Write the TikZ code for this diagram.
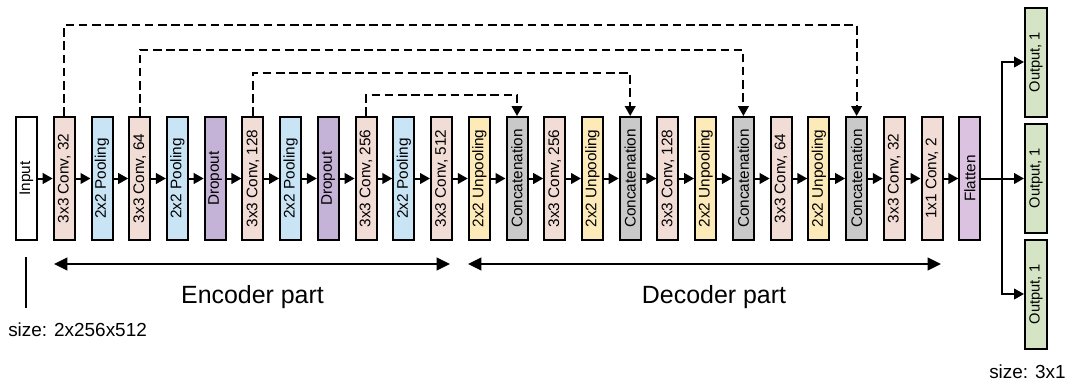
\documentclass[tikz,border=0pt]{standalone}
\usepackage{fontspec}
\setmainfont{Liberation Sans}
\usepackage{graphicx}
\usetikzlibrary{arrows.meta,calc}
\definecolor{convc}{HTML}{F2DCD6}
\definecolor{poolc}{HTML}{C8E4F5}
\definecolor{dropc}{HTML}{C4B2D7}
\definecolor{unpoolc}{HTML}{FDEAB9}
\definecolor{catc}{HTML}{C9C9C9}
\definecolor{flatc}{HTML}{DCC2E1}
\definecolor{outc}{HTML}{D4E4C4}
\newcommand{\rt}[1]{\rotatebox{90}{#1}}
\tikzset{
  layer/.style={draw=black, line width=1.5pt, minimum width=15.75pt, minimum height=92.25pt,
    inner sep=0pt, font=\fontsize{11.5}{13}\selectfont},
  conv/.style={layer, fill=convc},
  pool/.style={layer, fill=poolc},
  drop/.style={layer, fill=dropc},
  unpool/.style={layer, fill=unpoolc},
  cat/.style={layer, fill=catc},
  flat/.style={layer, fill=flatc},
  outbox/.style={draw=black, line width=1.5pt, fill=outc, minimum width=16.5pt, minimum height=81.75pt,
    inner sep=0pt, font=\fontsize{11}{12}\selectfont},
  flow/.style={line width=1.5pt, -{Triangle[length=7.5pt,width=8pt]}},
  skip/.style={line width=1.5pt, dash pattern=on 6.5pt off 3.4pt, -{Triangle[length=7.5pt,width=8pt]}},
  span/.style={line width=1.5pt, {Triangle[length=10pt,width=9.5pt]}-{Triangle[length=10pt,width=9.5pt]}},
  lbl/.style={font=\fontsize{18.7}{22}\selectfont, anchor=base},
  sizelbl/.style={font=\fontsize{14.2}{17}\selectfont, anchor=base},
}
\begin{document}
\begin{tikzpicture}[x=0.75pt,y=-0.75pt]
\useasboundingbox (0,0) rectangle (1069,386);
% layers
\node[layer, fill=white] (in) at (26.5,178.5) {\rt{Input}};
\node[conv]   (c1)  at (64.2,178.5)  {\rt{3x3 Conv, 32}};
\node[pool]   (p1)  at (102.0,178.5) {\rt{2x2 Pooling}};
\node[conv]   (c2)  at (139.7,178.5) {\rt{3x3 Conv, 64}};
\node[pool]   (p2)  at (177.4,178.5) {\rt{2x2 Pooling}};
\node[drop]   (d1)  at (215.2,178.5) {\rt{Dropout}};
\node[conv]   (c3)  at (252.9,178.5) {\rt{3x3 Conv, 128}};
\node[pool]   (p3)  at (290.6,178.5) {\rt{2x2 Pooling}};
\node[drop]   (d2)  at (328.3,178.5) {\rt{Dropout}};
\node[conv]   (c4)  at (366.1,178.5) {\rt{3x3 Conv, 256}};
\node[pool]   (p4)  at (403.8,178.5) {\rt{2x2 Pooling}};
\node[conv]   (c5)  at (441.5,178.5) {\rt{3x3 Conv, 512}};
\node[unpool] (u1)  at (479.3,178.5) {\rt{2x2 Unpooling}};
\node[cat]    (k1)  at (517.0,178.5) {\rt{Concatenation}};
\node[conv]   (c6)  at (554.7,178.5) {\rt{3x3 Conv, 256}};
\node[unpool] (u2)  at (592.5,178.5) {\rt{2x2 Unpooling}};
\node[cat]    (k2)  at (630.2,178.5) {\rt{Concatenation}};
\node[conv]   (c7)  at (667.9,178.5) {\rt{3x3 Conv, 128}};
\node[unpool] (u3)  at (705.6,178.5) {\rt{2x2 Unpooling}};
\node[cat]    (k3)  at (743.4,178.5) {\rt{Concatenation}};
\node[conv]   (c8)  at (781.1,178.5) {\rt{3x3 Conv, 64}};
\node[unpool] (u4)  at (818.8,178.5) {\rt{2x2 Unpooling}};
\node[cat]    (k4)  at (856.6,178.5) {\rt{Concatenation}};
\node[conv]   (c9)  at (894.3,178.5) {\rt{3x3 Conv, 32}};
\node[conv]   (c10) at (932.0,178.5) {\rt{1x1 Conv, 2}};
\node[flat]   (fl)  at (969.8,178.5) {\rt{Flatten}};
% outputs
\node[outbox] (o1) at (1036,62)  {\rt{Output, 1}};
\node[outbox] (o2) at (1036,178) {\rt{Output, 1}};
\node[outbox] (o3) at (1036,294) {\rt{Output, 1}};
% main flow
\foreach \a/\b in {in/c1,c1/p1,p1/c2,c2/p2,p2/d1,d1/c3,c3/p3,p3/d2,d2/c4,c4/p4,p4/c5,c5/u1,u1/k1,k1/c6,c6/u2,u2/k2,k2/c7,c7/u3,u3/k3,k3/c8,c8/u4,u4/k4,k4/c9,c9/c10,c10/fl}
  \draw[flow] (\a.east) -- (\b.west);
% skip connections
\coordinate (l1) at (0,25);
\coordinate (l2) at (0,50);
\coordinate (l3) at (0,73);
\coordinate (l4) at (0,95);
\draw[skip] (c1.north) -- (c1.north |- l1) -- (k4.north |- l1) -- (k4.north);
\draw[skip] (c2.north) -- (c2.north |- l2) -- (k3.north |- l2) -- (k3.north);
\draw[skip] (c3.north) -- (c3.north |- l3) -- (k2.north |- l3) -- (k2.north);
\draw[skip] (c4.north) -- (c4.north |- l4) -- (k1.north |- l4) -- (k1.north);
% outputs branch
\coordinate (br) at (1002,178.5);
\draw[line width=1.5pt] (fl.east) -- (br);
\draw[flow] (br) -- (o2.west |- br);
\draw[flow] (br) |- (o1.west);
\draw[flow] (br) |- (o3.west);
% encoder / decoder spans
\coordinate (e1) at (54,264);
\coordinate (e2) at (450,264);
\coordinate (e3) at (468,264);
\coordinate (e4) at (941,264);
\draw[span] (e1) -- (e2);
\draw[span] (e3) -- (e4);
\node[lbl] (enc) at (252.5,303) {Encoder part};
\node[lbl] (dec) at (714,303) {Decoder part};
% size annotations
\coordinate (t1) at (26,257);
\coordinate (t2) at (26,308);
\draw[line width=0.8pt] (t1) -- (t2);
\node[sizelbl, anchor=base west, inner sep=0pt] (s1) at (8,336) {size: 2x256x512};
\node[sizelbl, anchor=base east, inner sep=0pt] (s2) at (1066,378) {size: 3x1};
\end{tikzpicture}
\end{document}
